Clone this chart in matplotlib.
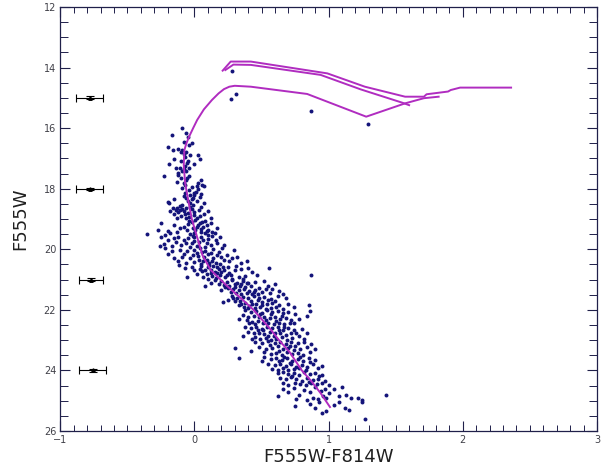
import numpy as np
import matplotlib
matplotlib.use("Agg")
import matplotlib.pyplot as plt
from matplotlib.ticker import MultipleLocator

# --- star photometry (F555W-F814W, F555W) ---
stars = [
    (0.28,14.1),(0.27,15.05),(0.31,14.87),(0.87,15.42),(1.29,15.85),
    (-0.09,15.98),(-0.17,16.22),(-0.06,16.17),(-0.04,16.55),(-0.08,16.45),(-0.05,16.3),
    (-0.20,16.61),(-0.16,16.72),(-0.02,16.50),(-0.09,16.72),(-0.10,16.80),(-0.03,16.88),
    (0.03,16.90),(-0.07,16.95),(-0.08,16.85),(-0.12,16.68),(-0.06,16.78),(0.04,17.02),
    (-0.155,17.02),(-0.19,17.19),(-0.055,17.16),(-0.005,17.19),(-0.14,17.30),(-0.105,17.30),
    (-0.04,17.32),(-0.09,17.43),(-0.07,17.25),(-0.10,17.10),(-0.06,17.40),(-0.08,17.35),
    (-0.12,17.47),(-0.05,17.08),
    (-0.12,17.54),(-0.23,17.57),(-0.055,17.63),(0.045,17.71),(-0.13,17.77),(-0.08,17.82),
    (0.058,17.87),(0.02,17.90),(-0.09,17.96),(0.07,17.90),(-0.06,17.70),(-0.04,17.58),
    (-0.10,17.66),(0.03,17.80),(-0.02,17.95),(-0.07,17.88),
    (-0.04,18.04),(-0.005,18.15),(-0.03,18.20),(0.0,18.22),(-0.067,18.15),(-0.155,18.34),
    (-0.19,18.48),(0.07,18.48),(-0.06,18.30),(-0.02,18.35),(0.02,18.40),(-0.05,18.42),
    (0.04,18.28),(-0.08,18.25),(0.01,18.10),(-0.03,18.46),(0.05,18.18),(-0.20,18.45),
    (-0.01,18.30),(0.03,18.02),
    (-0.13,18.64),(-0.105,18.70),(-0.06,18.64),(-0.03,18.59),(-0.005,18.76),(0.032,18.70),
    (0.07,18.83),(-0.04,18.92),(-0.16,18.62),(-0.14,18.70),(-0.12,18.78),(-0.09,18.66),
    (-0.08,18.74),(-0.07,18.84),(-0.15,18.85),(-0.10,18.90),(-0.02,18.68),(0.00,18.88),
    (0.02,18.96),(-0.05,18.80),(0.05,18.60),(0.10,18.75),(-0.11,18.58),(-0.13,18.95),
    (-0.06,18.98),(0.04,18.90),(-0.18,18.72),(0.12,18.95),(-0.01,18.55),(-0.09,18.55),
    (0.007,19.03),(0.057,19.09),(0.095,19.19),(-0.25,19.14),(-0.27,19.36),(-0.354,19.49),
    (-0.217,19.52),(-0.18,19.47),(-0.13,19.42),(-0.055,19.36),(0.007,19.36),(0.045,19.42),
    (0.082,19.47),(0.13,19.42),(0.17,19.31),(-0.02,19.10),(-0.05,19.15),(0.03,19.20),
    (0.06,19.28),(0.10,19.35),(-0.08,19.25),(-0.11,19.30),(0.00,19.45),(0.02,19.25),
    (0.08,19.05),(0.12,19.12),(-0.03,19.48),(0.05,19.33),(-0.15,19.20),(0.15,19.45),
    (-0.04,19.05),(0.09,19.40),(-0.01,19.30),(0.04,19.12),(-0.20,19.40),
    (-0.20,19.69),(-0.14,19.75),(-0.08,19.69),(-0.017,19.80),(0.032,19.75),(0.095,19.80),
    (0.157,19.69),(0.207,19.96),(-0.217,19.96),(-0.17,19.90),(-0.25,19.60),(-0.23,19.82),
    (-0.12,19.58),(-0.05,19.62),(0.00,19.60),(0.05,19.58),(0.10,19.65),(0.13,19.55),
    (0.06,19.70),(0.02,19.88),(-0.03,19.92),(0.08,19.92),(0.12,19.85),(0.17,19.78),
    (-0.10,19.85),(-0.06,19.78),(0.00,19.72),(0.04,19.95),(0.14,19.98),(-0.15,19.62),
    (0.19,19.60),(0.10,19.52),(-0.26,19.90),(0.22,19.86),(-0.01,19.55),
    (-0.105,20.02),(-0.055,20.07),(-0.005,20.02),(0.057,20.08),(0.12,20.13),(0.17,20.18),
    (0.294,20.02),(-0.092,20.24),(-0.03,20.29),(0.032,20.35),(0.095,20.35),(0.157,20.46),
    (0.22,20.35),(0.257,20.40),(0.344,20.46),(0.394,20.40),(-0.20,20.15),(-0.15,20.30),
    (-0.12,20.40),(-0.01,20.18),(0.03,20.22),(0.07,20.25),(0.10,20.15),(0.14,20.28),
    (0.20,20.24),(0.00,20.42),(0.05,20.48),(0.11,20.44),(0.18,20.10),(0.24,20.20),
    (0.28,20.30),(-0.06,20.45),(0.08,20.05),(0.02,20.12),(-0.17,20.05),(0.13,20.38),
    (0.06,20.40),(-0.08,20.15),(0.32,20.25),(0.19,20.48),
    (-0.117,20.51),(-0.067,20.62),(-0.005,20.68),(0.057,20.73),(0.12,20.79),(0.17,20.79),
    (0.27,20.84),(0.469,20.84),(-0.055,20.90),(0.556,20.62),(0.87,20.85),(0.05,20.55),
    (0.10,20.60),(0.14,20.55),(0.18,20.65),(0.22,20.70),(0.25,20.60),(0.30,20.70),
    (0.35,20.66),(0.40,20.62),(0.08,20.70),(0.12,20.68),(0.15,20.74),(0.19,20.85),
    (0.23,20.92),(0.28,20.97),(0.33,20.90),(0.38,20.88),(0.02,20.82),(0.06,20.92),
    (0.10,20.98),(0.16,20.95),(0.20,20.75),(0.13,20.88),(0.09,20.82),(-0.02,20.58),
    (0.26,20.78),(0.31,20.56),(0.43,20.75),(0.11,20.52),(0.17,20.60),(0.21,20.58),
    (0.04,20.64),(0.24,20.86),(0.36,20.98),
    (0.15,21.02),(0.20,21.05),(0.24,21.08),(0.28,21.03),(0.32,21.10),(0.36,21.05),
    (0.40,21.12),(0.45,21.08),(0.52,21.05),(0.18,21.15),(0.22,21.18),(0.26,21.20),
    (0.30,21.16),(0.34,21.22),(0.38,21.25),(0.42,21.20),(0.48,21.28),(0.55,21.22),
    (0.60,21.15),(0.12,21.10),(0.25,21.28),(0.29,21.30),(0.33,21.35),(0.37,21.32),
    (0.41,21.38),(0.45,21.35),(0.50,21.40),(0.56,21.45),(0.63,21.38),(0.27,21.42),
    (0.31,21.45),(0.35,21.48),(0.39,21.44),(0.43,21.48),(0.47,21.46),(0.53,21.30),
    (0.20,21.35),(0.23,21.25),(0.08,21.20),(0.66,21.48),(0.58,21.32),(0.35,21.15),
    (0.44,21.42),(0.30,21.25),(0.39,21.10),
    (0.28,21.55),(0.32,21.60),(0.36,21.58),(0.40,21.62),(0.44,21.55),(0.48,21.60),
    (0.52,21.58),(0.57,21.65),(0.62,21.55),(0.68,21.62),(0.25,21.68),(0.30,21.72),
    (0.34,21.70),(0.38,21.78),(0.42,21.72),(0.46,21.80),(0.50,21.75),(0.54,21.82),
    (0.58,21.78),(0.63,21.85),(0.70,21.80),(0.33,21.85),(0.37,21.90),(0.41,21.88),
    (0.45,21.95),(0.49,21.92),(0.53,21.98),(0.57,21.95),(0.61,21.92),(0.66,21.98),
    (0.74,21.90),(0.85,21.85),(0.29,21.62),(0.40,21.95),(0.47,21.68),(0.55,21.68),
    (0.35,21.80),(0.21,21.75),(0.60,21.70),(0.43,21.82),(0.50,21.85),
    (0.86,22.05),(0.38,22.02),(0.42,22.08),(0.46,22.05),(0.50,22.10),(0.54,22.02),
    (0.58,22.08),(0.62,22.05),(0.66,22.12),(0.70,22.08),(0.75,22.15),(0.36,22.18),
    (0.40,22.22),(0.44,22.20),(0.48,22.25),(0.52,22.22),(0.56,22.28),(0.60,22.25),
    (0.64,22.30),(0.68,22.28),(0.72,22.35),(0.78,22.30),(0.39,22.35),(0.43,22.40),
    (0.47,22.38),(0.51,22.45),(0.55,22.42),(0.59,22.48),(0.63,22.45),(0.67,22.48),
    (0.71,22.42),(0.33,22.30),(0.45,22.48),(0.57,22.15),(0.53,22.35),(0.61,22.38),
    (0.49,22.15),(0.65,22.20),(0.41,22.45),(0.74,22.45),(0.84,22.20),
    (0.38,22.55),(0.42,22.60),(0.46,22.58),(0.50,22.62),(0.54,22.55),(0.58,22.60),
    (0.62,22.58),(0.66,22.65),(0.70,22.60),(0.74,22.68),(0.80,22.62),(0.40,22.72),
    (0.44,22.78),(0.48,22.75),(0.52,22.80),(0.56,22.72),(0.60,22.78),(0.64,22.75),
    (0.68,22.82),(0.72,22.78),(0.78,22.85),(0.45,22.90),(0.49,22.95),(0.53,22.92),
    (0.57,22.98),(0.61,22.95),(0.65,22.90),(0.69,22.98),(0.73,22.92),(0.82,22.95),
    (0.36,22.85),(0.55,22.85),(0.63,22.68),(0.51,22.68),(0.59,22.88),(0.67,22.55),
    (0.47,22.65),(0.76,22.75),(0.43,22.95),(0.84,22.75),
    (0.30,23.25),(0.45,23.05),(0.50,23.10),(0.55,23.02),(0.60,23.08),(0.64,23.05),
    (0.68,23.12),(0.72,23.05),(0.77,23.10),(0.82,23.05),(0.87,23.12),(0.48,23.22),
    (0.53,23.28),(0.58,23.25),(0.62,23.20),(0.66,23.30),(0.70,23.25),(0.74,23.32),
    (0.79,23.28),(0.84,23.22),(0.52,23.40),(0.57,23.45),(0.61,23.42),(0.65,23.48),
    (0.69,23.40),(0.73,23.45),(0.77,23.42),(0.81,23.48),(0.86,23.40),(0.42,23.35),
    (0.56,23.15),(0.71,23.18),(0.63,23.35),(0.75,23.20),(0.90,23.30),
    (0.33,23.60),(0.52,23.55),(0.57,23.62),(0.61,23.58),(0.65,23.65),(0.69,23.60),
    (0.73,23.68),(0.77,23.62),(0.81,23.70),(0.85,23.58),(0.90,23.65),(0.55,23.78),
    (0.60,23.82),(0.64,23.78),(0.68,23.85),(0.72,23.80),(0.76,23.88),(0.80,23.82),
    (0.84,23.90),(0.88,23.78),(0.58,23.95),(0.62,23.98),(0.66,23.92),(0.70,23.98),
    (0.74,23.95),(0.78,23.92),(0.83,23.98),(0.92,23.92),(0.50,23.70),(0.63,23.70),
    (0.71,23.75),(0.79,23.55),(0.86,23.72),(0.67,23.55),(0.95,23.85),
    (0.62,24.10),(0.66,24.05),(0.70,24.12),(0.74,24.08),(0.78,24.15),(0.82,24.05),
    (0.86,24.12),(0.90,24.08),(0.95,24.15),(0.64,24.25),(0.68,24.30),(0.72,24.22),
    (0.76,24.28),(0.80,24.35),(0.84,24.25),(0.88,24.32),(0.92,24.28),(0.97,24.35),
    (0.66,24.42),(0.70,24.48),(0.75,24.40),(0.79,24.45),(0.83,24.48),(0.87,24.42),
    (0.91,24.45),(0.95,24.40),(1.00,24.48),(0.73,24.18),(0.85,24.38),(0.93,24.20),
    (0.62,24.85),(0.66,24.60),(0.70,24.70),(0.74,24.58),(0.78,24.80),(0.82,24.65),
    (0.86,24.72),(0.90,24.55),(0.94,24.68),(0.97,24.60),(1.00,24.75),(1.04,24.62),
    (1.10,24.55),(1.13,24.80),(1.17,24.90),(1.22,24.92),(1.25,24.98),(1.43,24.80),
    (0.88,24.90),(0.92,24.95),(0.96,24.85),(0.76,24.95),(0.84,24.98),(1.08,24.85),
    (0.98,24.92),
    (0.75,25.18),(0.86,25.10),(0.90,25.25),(0.95,25.40),(0.98,25.35),(1.04,25.15),
    (1.08,25.05),(1.12,25.25),(1.15,25.30),(1.25,25.05),(1.27,25.60),(0.93,25.05),
]
star_col = [s[0] for s in stars]
star_mag = [s[1] for s in stars]

# --- isochrone branches ---
iso_main_col = [1.01, 0.94, 0.87, 0.80, 0.71, 0.63, 0.57, 0.44, 0.36, 0.24, 0.12, 0.06,
                0.02, -0.02, -0.05, -0.07, -0.08, -0.075, -0.06, -0.04, -0.01, 0.02, 0.07,
                0.13, 0.18, 0.22, 0.26, 0.30, 0.42, 0.84, 1.28, 1.57, 1.71, 1.82]
iso_main_mag = [25.21, 24.75, 24.35, 24.0, 23.4, 23.0, 22.66, 22.0, 21.67, 21.2, 20.68, 20.2,
                19.6, 19.0, 18.3, 17.8, 17.2, 16.72, 16.5, 16.28, 16.0, 15.73, 15.38,
                15.07, 14.85, 14.71, 14.63, 14.6, 14.63, 14.87, 15.62, 15.18, 15.01, 14.96]
iso_top_col = [0.21, 0.27, 0.42, 0.99, 1.27, 1.57, 1.71, 1.73, 1.89, 1.91, 1.98, 2.36]
iso_top_mag = [14.1, 13.8, 13.80, 14.19, 14.63, 14.96, 14.96, 14.88, 14.79, 14.74, 14.66, 14.66]
iso_mid_col = [0.23, 0.29, 0.42, 0.94, 1.24, 1.55, 1.60]
iso_mid_mag = [14.08, 13.9, 13.91, 14.24, 14.72, 15.16, 15.24]

# --- typical photometric errors ---
err_col = [-0.78, -0.78, -0.77, -0.76]
err_mag = [15, 18, 21, 24]
err_x = [0.10, 0.10, 0.09, 0.10]
err_y = [0.05, 0.04, 0.05, 0.05]

fig = plt.figure(figsize=[6.03, 4.71], dpi=100)
ax = fig.add_axes([0.1, 0.085, 0.89, 0.9])

ax.scatter(star_col, star_mag, s=8, c="#14147a", marker="o", linewidths=0, zorder=2)
for c, m in [(iso_main_col, iso_main_mag), (iso_top_col, iso_top_mag), (iso_mid_col, iso_mid_mag)]:
    ax.plot(c, m, "-", color="#b02cc0", lw=1.4, zorder=3)
ax.errorbar(err_col, err_mag, xerr=err_x, yerr=err_y, fmt="^", ms=2.5, color="k",
            ecolor="k", elinewidth=0.8, capsize=3, capthick=0.8)

ax.set_xlim(-1, 3)
ax.set_ylim(26, 12)
ax.xaxis.set_major_locator(MultipleLocator(1))
ax.xaxis.set_minor_locator(MultipleLocator(0.1))
ax.yaxis.set_major_locator(MultipleLocator(2))
ax.yaxis.set_minor_locator(MultipleLocator(0.5))
ax.tick_params(which="both", direction="in", top=True, right=True, colors="#20204a",
               labelcolor="#404048", labelsize=7, pad=3)
ax.tick_params(which="major", length=7, width=0.8)
ax.tick_params(which="minor", length=4, width=0.7)
ax.tick_params(axis="y", which="minor", length=6)
for sp in ax.spines.values():
    sp.set_color("#20204a")
    sp.set_linewidth(0.9)

ax.set_xlabel("F555W-F814W", fontsize=13, color="#202020", labelpad=2)
ax.set_ylabel("F555W", fontsize=13, color="#202020", labelpad=10)

fig.savefig("out.png", dpi=100)
